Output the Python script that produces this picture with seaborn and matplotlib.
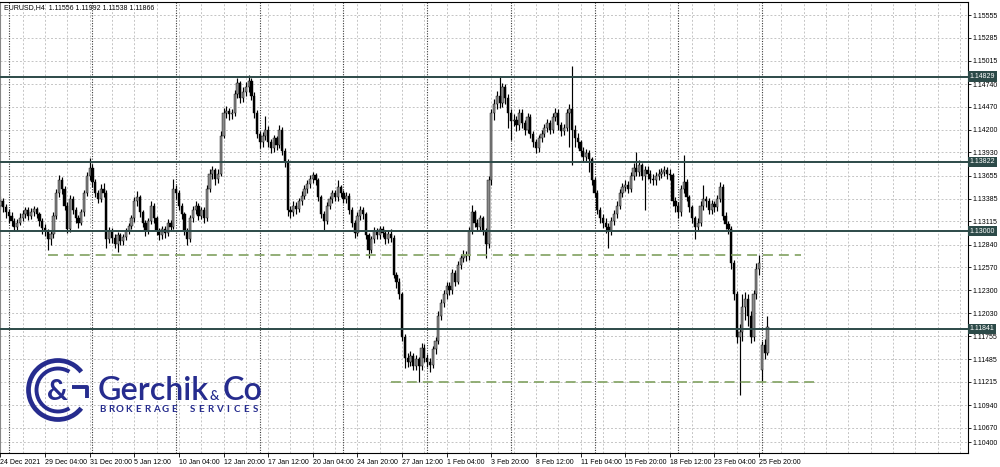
import numpy as np
import pandas as pd
import matplotlib
matplotlib.use("Agg")
import matplotlib.pyplot as plt
import matplotlib.transforms as mtransforms
from matplotlib import font_manager
from matplotlib.patches import Arc
import seaborn as sns

sns.set_theme(style="white")
plt.rcParams["font.family"] = ["Liberation Sans", "DejaVu Sans"]

# ---------------------------------------------------------------
# EURUSD H4 bars (24 Dec 2021 .. 28 Feb 2022)
# ---------------------------------------------------------------
opens = [
    1.1330, 1.1335, 1.1328, 1.1322, 1.1318, 1.1312, 1.1305, 1.1310, 1.1316, 1.1320,
    1.1325, 1.1318, 1.1322, 1.1326, 1.1320, 1.1312, 1.1304, 1.1300, 1.1290, 1.1296,
    1.1318, 1.1345, 1.1360, 1.1350, 1.1330, 1.1302, 1.1338, 1.1325, 1.1315, 1.1310,
    1.1322, 1.1345, 1.1365, 1.1375, 1.1358, 1.1345, 1.1338, 1.1350, 1.1345, 1.1290,
    1.1300, 1.1292, 1.1285, 1.1295, 1.1288, 1.1293, 1.1300, 1.1306, 1.1315, 1.1335,
    1.1340, 1.1322, 1.1310, 1.1300, 1.1312, 1.1330, 1.1315, 1.1300, 1.1295, 1.1302,
    1.1298, 1.1310, 1.1305, 1.1350, 1.1345, 1.1330, 1.1320, 1.1300, 1.1290, 1.1315,
    1.1325, 1.1330, 1.1318, 1.1325, 1.1315, 1.1350, 1.1368, 1.1372, 1.1362, 1.1368,
    1.1413, 1.1440, 1.1442, 1.1438, 1.1440, 1.1462, 1.1475, 1.1458, 1.1465, 1.1470,
    1.1478, 1.1460, 1.1440, 1.1415, 1.1405, 1.1412, 1.1420, 1.1405, 1.1398, 1.1410,
    1.1402, 1.1420, 1.1395, 1.1382, 1.1325, 1.1322, 1.1330, 1.1326, 1.1335, 1.1342,
    1.1350, 1.1356, 1.1362, 1.1366, 1.1360, 1.1340, 1.1320, 1.1312, 1.1330, 1.1338,
    1.1345, 1.1340, 1.1352, 1.1345, 1.1338, 1.1342, 1.1325, 1.1310, 1.1298, 1.1318,
    1.1325, 1.1320, 1.1295, 1.1278, 1.1290, 1.1300, 1.1295, 1.1302, 1.1298, 1.1290,
    1.1296, 1.1292, 1.1248, 1.1240, 1.1225, 1.1175, 1.1150, 1.1145, 1.1152, 1.1140,
    1.1148, 1.1140, 1.1162, 1.1150, 1.1145, 1.1142, 1.1160, 1.1170, 1.1200, 1.1215,
    1.1225, 1.1235, 1.1230, 1.1250, 1.1240, 1.1260, 1.1268, 1.1272, 1.1270, 1.1300,
    1.1322, 1.1310, 1.1305, 1.1315, 1.1300, 1.1285, 1.1360, 1.1440, 1.1450, 1.1460,
    1.1452, 1.1470, 1.1458, 1.1440, 1.1430, 1.1432, 1.1425, 1.1440, 1.1428, 1.1420,
    1.1435, 1.1415, 1.1405, 1.1398, 1.1410, 1.1415, 1.1422, 1.1428, 1.1420, 1.1435,
    1.1440, 1.1425, 1.1418, 1.1422, 1.1440, 1.1445, 1.1420, 1.1410, 1.1405, 1.1395,
    1.1388, 1.1392, 1.1385, 1.1360, 1.1345, 1.1325, 1.1315, 1.1310, 1.1305, 1.1300,
    1.1312, 1.1320, 1.1330, 1.1345, 1.1352, 1.1355, 1.1350, 1.1365, 1.1375, 1.1370,
    1.1378, 1.1365, 1.1372, 1.1368, 1.1362, 1.1360, 1.1365, 1.1368, 1.1370, 1.1372,
    1.1368, 1.1366, 1.1335, 1.1330, 1.1322, 1.1350, 1.1358, 1.1340, 1.1328, 1.1315,
    1.1305, 1.1310, 1.1330, 1.1338, 1.1335, 1.1325, 1.1332, 1.1328, 1.1338, 1.1352,
    1.1318, 1.1308, 1.1302, 1.1262, 1.1225, 1.1175, 1.1180, 1.1210, 1.1220, 1.1200,
    1.1175, 1.1225, 1.1255, 1.1135, 1.1165, 1.11556,
]
highs = [
    1.1341, 1.1339, 1.1332, 1.1326, 1.1322, 1.1316, 1.1314, 1.1321, 1.1325, 1.1329,
    1.1328, 1.1327, 1.1330, 1.1329, 1.1323, 1.1315, 1.1308, 1.1303, 1.1301, 1.1322,
    1.1350, 1.1366, 1.1364, 1.1353, 1.1334, 1.1343, 1.1341, 1.1328, 1.1319, 1.1326,
    1.1349, 1.1370, 1.1386, 1.1379, 1.1362, 1.1349, 1.1356, 1.1357, 1.1348, 1.1305,
    1.1304, 1.1296, 1.1299, 1.1298, 1.1297, 1.1304, 1.1310, 1.1319, 1.1340, 1.1347,
    1.1343, 1.1325, 1.1313, 1.1316, 1.1336, 1.1333, 1.1318, 1.1304, 1.1306, 1.1306,
    1.1314, 1.1313, 1.1362, 1.1355, 1.1348, 1.1333, 1.1323, 1.1304, 1.1319, 1.1330,
    1.1336, 1.1333, 1.1329, 1.1328, 1.1354, 1.1373, 1.1377, 1.1375, 1.1373, 1.1418,
    1.1446, 1.1448, 1.1446, 1.1445, 1.1467, 1.1481, 1.1478, 1.1470, 1.1476, 1.1485,
    1.1481, 1.1464, 1.1443, 1.1419, 1.1417, 1.1436, 1.1424, 1.1409, 1.1414, 1.1413,
    1.1425, 1.1423, 1.1398, 1.1385, 1.1330, 1.1335, 1.1334, 1.1339, 1.1347, 1.1354,
    1.1360, 1.1366, 1.1370, 1.1369, 1.1363, 1.1343, 1.1324, 1.1334, 1.1342, 1.1349,
    1.1349, 1.1360, 1.1355, 1.1348, 1.1346, 1.1345, 1.1328, 1.1313, 1.1322, 1.1330,
    1.1328, 1.1323, 1.1298, 1.1294, 1.1305, 1.1304, 1.1306, 1.1306, 1.1301, 1.1300,
    1.1303, 1.1295, 1.1252, 1.1244, 1.1228, 1.1178, 1.1156, 1.1158, 1.1156, 1.1153,
    1.1151, 1.1168, 1.1166, 1.1154, 1.1150, 1.1164, 1.1175, 1.1205, 1.1220, 1.1230,
    1.1240, 1.1240, 1.1255, 1.1254, 1.1265, 1.1273, 1.1277, 1.1276, 1.1305, 1.1331,
    1.1325, 1.1314, 1.1319, 1.1318, 1.1304, 1.1365, 1.1445, 1.1456, 1.1466, 1.1483,
    1.1475, 1.1474, 1.1462, 1.1444, 1.1438, 1.1436, 1.1445, 1.1444, 1.1432, 1.1440,
    1.1439, 1.1419, 1.1409, 1.1414, 1.1420, 1.1427, 1.1433, 1.1432, 1.1440, 1.1446,
    1.1444, 1.1429, 1.1427, 1.1445, 1.1450, 1.1495, 1.1425, 1.1416, 1.1408, 1.1399,
    1.1397, 1.1396, 1.1388, 1.1364, 1.1348, 1.1328, 1.1320, 1.1315, 1.1309, 1.1317,
    1.1325, 1.1335, 1.1350, 1.1357, 1.1360, 1.1359, 1.1370, 1.1380, 1.1393, 1.1384,
    1.1381, 1.1377, 1.1377, 1.1372, 1.1367, 1.1370, 1.1373, 1.1375, 1.1377, 1.1376,
    1.1373, 1.1369, 1.1340, 1.1334, 1.1355, 1.1390, 1.1362, 1.1343, 1.1331, 1.1318,
    1.1315, 1.1335, 1.1355, 1.1342, 1.1339, 1.1337, 1.1336, 1.1343, 1.1358, 1.1356,
    1.1322, 1.1312, 1.1306, 1.1266, 1.1229, 1.1190, 1.1225, 1.1228, 1.1226, 1.1205,
    1.1230, 1.1262, 1.1272, 1.1170, 1.1172, 1.11992,
]
lows = [
    1.1326, 1.1322, 1.1316, 1.1310, 1.1306, 1.1300, 1.1301, 1.1307, 1.1312, 1.1316,
    1.1313, 1.1314, 1.1318, 1.1315, 1.1306, 1.1297, 1.1294, 1.1277, 1.1284, 1.1292,
    1.1314, 1.1340, 1.1344, 1.1325, 1.1298, 1.1299, 1.1320, 1.1310, 1.1304, 1.1307,
    1.1318, 1.1341, 1.1360, 1.1352, 1.1340, 1.1333, 1.1334, 1.1340, 1.1280, 1.1286,
    1.1286, 1.1280, 1.1275, 1.1283, 1.1284, 1.1289, 1.1296, 1.1302, 1.1311, 1.1330,
    1.1317, 1.1305, 1.1294, 1.1296, 1.1308, 1.1310, 1.1295, 1.1289, 1.1290, 1.1292,
    1.1294, 1.1300, 1.1302, 1.1338, 1.1325, 1.1314, 1.1295, 1.1284, 1.1287, 1.1311,
    1.1320, 1.1313, 1.1314, 1.1310, 1.1312, 1.1346, 1.1362, 1.1355, 1.1357, 1.1365,
    1.1410, 1.1434, 1.1432, 1.1433, 1.1436, 1.1458, 1.1452, 1.1453, 1.1460, 1.1465,
    1.1455, 1.1434, 1.1410, 1.1398, 1.1400, 1.1408, 1.1400, 1.1392, 1.1394, 1.1396,
    1.1398, 1.1390, 1.1376, 1.1318, 1.1315, 1.1318, 1.1320, 1.1322, 1.1331, 1.1338,
    1.1345, 1.1351, 1.1357, 1.1354, 1.1335, 1.1315, 1.1301, 1.1308, 1.1326, 1.1333,
    1.1335, 1.1336, 1.1340, 1.1333, 1.1333, 1.1320, 1.1305, 1.1292, 1.1294, 1.1313,
    1.1314, 1.1290, 1.1268, 1.1274, 1.1286, 1.1290, 1.1291, 1.1293, 1.1285, 1.1286,
    1.1287, 1.1244, 1.1233, 1.1219, 1.1170, 1.1138, 1.1139, 1.1140, 1.1135, 1.1136,
    1.1121, 1.1136, 1.1145, 1.1139, 1.1133, 1.1138, 1.1155, 1.1166, 1.1195, 1.1210,
    1.1220, 1.1224, 1.1226, 1.1235, 1.1237, 1.1255, 1.1263, 1.1265, 1.1266, 1.1296,
    1.1305, 1.1300, 1.1300, 1.1295, 1.1268, 1.1280, 1.1355, 1.1432, 1.1444, 1.1446,
    1.1447, 1.1450, 1.1422, 1.1408, 1.1424, 1.1419, 1.1420, 1.1422, 1.1414, 1.1416,
    1.1410, 1.1399, 1.1392, 1.1394, 1.1405, 1.1411, 1.1417, 1.1415, 1.1416, 1.1430,
    1.1420, 1.1413, 1.1414, 1.1418, 1.1400, 1.1378, 1.1400, 1.1398, 1.1389, 1.1382,
    1.1383, 1.1370, 1.1355, 1.1340, 1.1320, 1.1310, 1.1304, 1.1298, 1.1280, 1.1295,
    1.1307, 1.1316, 1.1326, 1.1340, 1.1347, 1.1345, 1.1346, 1.1360, 1.1365, 1.1365,
    1.1360, 1.1325, 1.1362, 1.1357, 1.1355, 1.1355, 1.1360, 1.1363, 1.1365, 1.1362,
    1.1360, 1.1330, 1.1322, 1.1316, 1.1318, 1.1345, 1.1335, 1.1322, 1.1309, 1.1290,
    1.1300, 1.1306, 1.1325, 1.1329, 1.1320, 1.1320, 1.1322, 1.1324, 1.1334, 1.1313,
    1.1302, 1.1296, 1.1255, 1.1218, 1.1168, 1.1106, 1.1170, 1.1195, 1.1188, 1.1168,
    1.1170, 1.1220, 1.1248, 1.1121, 1.1148, 1.11538,
]
closes = [
    1.1335, 1.1328, 1.1322, 1.1318, 1.1312, 1.1305, 1.1310, 1.1316, 1.1320, 1.1325,
    1.1318, 1.1322, 1.1326, 1.1320, 1.1312, 1.1304, 1.1300, 1.1290, 1.1296, 1.1318,
    1.1345, 1.1360, 1.1350, 1.1330, 1.1302, 1.1338, 1.1325, 1.1315, 1.1310, 1.1322,
    1.1345, 1.1365, 1.1375, 1.1358, 1.1345, 1.1338, 1.1350, 1.1345, 1.1290, 1.1300,
    1.1292, 1.1285, 1.1295, 1.1288, 1.1293, 1.1300, 1.1306, 1.1315, 1.1335, 1.1340,
    1.1322, 1.1310, 1.1300, 1.1312, 1.1330, 1.1315, 1.1300, 1.1295, 1.1302, 1.1298,
    1.1310, 1.1305, 1.1350, 1.1345, 1.1330, 1.1320, 1.1300, 1.1290, 1.1315, 1.1325,
    1.1330, 1.1318, 1.1325, 1.1315, 1.1350, 1.1368, 1.1372, 1.1362, 1.1368, 1.1413,
    1.1440, 1.1442, 1.1438, 1.1440, 1.1462, 1.1475, 1.1458, 1.1465, 1.1470, 1.1478,
    1.1460, 1.1440, 1.1415, 1.1405, 1.1412, 1.1420, 1.1405, 1.1398, 1.1410, 1.1402,
    1.1420, 1.1395, 1.1382, 1.1325, 1.1322, 1.1330, 1.1326, 1.1335, 1.1342, 1.1350,
    1.1356, 1.1362, 1.1366, 1.1360, 1.1340, 1.1320, 1.1312, 1.1330, 1.1338, 1.1345,
    1.1340, 1.1352, 1.1345, 1.1338, 1.1342, 1.1325, 1.1310, 1.1298, 1.1318, 1.1325,
    1.1320, 1.1295, 1.1278, 1.1290, 1.1300, 1.1295, 1.1302, 1.1298, 1.1290, 1.1296,
    1.1292, 1.1248, 1.1240, 1.1225, 1.1175, 1.1150, 1.1145, 1.1152, 1.1140, 1.1148,
    1.1140, 1.1162, 1.1150, 1.1145, 1.1142, 1.1160, 1.1170, 1.1200, 1.1215, 1.1225,
    1.1235, 1.1230, 1.1250, 1.1240, 1.1260, 1.1268, 1.1272, 1.1270, 1.1300, 1.1322,
    1.1310, 1.1305, 1.1315, 1.1300, 1.1285, 1.1360, 1.1440, 1.1450, 1.1460, 1.1452,
    1.1470, 1.1458, 1.1440, 1.1430, 1.1432, 1.1425, 1.1440, 1.1428, 1.1420, 1.1435,
    1.1415, 1.1405, 1.1398, 1.1410, 1.1415, 1.1422, 1.1428, 1.1420, 1.1435, 1.1440,
    1.1425, 1.1418, 1.1422, 1.1440, 1.1445, 1.1420, 1.1410, 1.1405, 1.1395, 1.1388,
    1.1392, 1.1385, 1.1360, 1.1345, 1.1325, 1.1315, 1.1310, 1.1305, 1.1300, 1.1312,
    1.1320, 1.1330, 1.1345, 1.1352, 1.1355, 1.1350, 1.1365, 1.1375, 1.1370, 1.1378,
    1.1365, 1.1372, 1.1368, 1.1362, 1.1360, 1.1365, 1.1368, 1.1370, 1.1372, 1.1368,
    1.1366, 1.1335, 1.1330, 1.1322, 1.1350, 1.1358, 1.1340, 1.1328, 1.1315, 1.1305,
    1.1310, 1.1330, 1.1338, 1.1335, 1.1325, 1.1332, 1.1328, 1.1338, 1.1352, 1.1318,
    1.1308, 1.1302, 1.1262, 1.1225, 1.1175, 1.1180, 1.1210, 1.1220, 1.1200, 1.1175,
    1.1225, 1.1255, 1.1262, 1.1165, 1.1156, 1.11866,
]

# price scale labels on the right (MT4 puts the bottom label a bit higher)
price_ticks = [1.15555, 1.15285, 1.15015, 1.14740, 1.14470, 1.14200, 1.13930,
               1.13655, 1.13385, 1.13115, 1.12840, 1.12570, 1.12300, 1.12030,
               1.11755, 1.11485, 1.11215, 1.10940, 1.10670, 1.10503]
price_labels = ["1.15555", "1.15285", "1.15015", "1.14740", "1.14470", "1.14200",
                "1.13930", "1.13655", "1.13385", "1.13115", "1.12840", "1.12570",
                "1.12300", "1.12030", "1.11755", "1.11485", "1.11215", "1.10940",
                "1.10670", "1.10400"]

time_labels = ["24 Dec 2021", "29 Dec 04:00", "31 Dec 20:00", "5 Jan 12:00",
               "10 Jan 04:00", "12 Jan 20:00", "17 Jan 12:00", "20 Jan 04:00",
               "24 Jan 20:00", "27 Jan 12:00", "1 Feb 04:00", "3 Feb 20:00",
               "8 Feb 12:00", "11 Feb 04:00", "15 Feb 20:00", "18 Feb 12:00",
               "23 Feb 04:00", "25 Feb 20:00"]
bars_per_label = 16
week_start_bars = [3, 33, 63, 93, 123, 153, 183, 213, 243, 273]

# horizontal levels
levels = [1.14829, 1.13822, 1.13000, 1.11841]
level_labels = ["1.14829", "1.13822", "1.13000", "1.11841"]
dashed_levels = [1.12717, 1.11213]
dashed_from = [17, 140]
dashed_to = [287, 292]

header = "EURUSD,H4  1.11556 1.11992 1.11538 1.11866"
tagline = "BROKERAGE SERVICES"

# ---------------------------------------------------------------
df = pd.DataFrame({"open": opens, "high": highs, "low": lows, "close": closes})
df["bar"] = np.arange(len(df))
df["up"] = df["close"] >= df["open"]
df["body_lo"] = df[["open", "close"]].min(axis=1)
df["body_h"] = (df["close"] - df["open"]).abs().clip(lower=0.00006)

installed = {f.name for f in font_manager.fontManager.ttflist}
if "Liberation Sans Narrow" in installed:
    AX_FONT, TXT = "Liberation Sans Narrow", 6.0
else:
    AX_FONT, TXT = "Liberation Sans", 5.0

LEVEL_C = "#2c4a48"
DASH_C = "#8aa86c"
BULL_C = "#8a8a8a"

fig = plt.figure(figsize=(10, 4.67), dpi=100)
ax = fig.add_axes([0.0, 1 - 453 / 467, 0.968, 451 / 467])

# grid
for i in range(0, 350, 8):
    ax.axvline(i, color="#c4c4c4", lw=0.7, ls=(0, (2, 2)), zorder=0)
for p in price_ticks:
    ax.axhline(p, color="#c4c4c4", lw=0.7, ls=(0, (2, 2)), zorder=0)
for w in week_start_bars:
    ax.axvline(w, color="#3a3a3a", lw=0.8, ls=(0, (1, 1.3)), zorder=0.5)

# candles
ax.vlines(df["bar"], df["low"], df["high"], color="black", lw=0.85, zorder=2)
up = df[df["up"]]
dn = df[~df["up"]]
ax.bar(up["bar"], up["body_h"], bottom=up["body_lo"], width=0.8,
       color=BULL_C, edgecolor="black", linewidth=0.3, zorder=3)
ax.bar(dn["bar"], dn["body_h"], bottom=dn["body_lo"], width=0.8,
       color="black", edgecolor="black", linewidth=0.3, zorder=3)

# levels
trans = mtransforms.blended_transform_factory(ax.transAxes, ax.transData)
for lv, lab in zip(levels, level_labels):
    ax.axhline(lv, color=LEVEL_C, lw=1.4, zorder=4)
    ax.text(1.002, lv, lab, transform=trans, ha="left", va="center",
            fontsize=TXT, color="white", zorder=10, clip_on=False,
            family=[AX_FONT, "DejaVu Sans"],
            bbox=dict(boxstyle="square,pad=0.22", fc=LEVEL_C, ec="none"))
for lv, a, b in zip(dashed_levels, dashed_from, dashed_to):
    ax.hlines(lv, a, b, color=DASH_C, lw=1.3, ls=(0, (5.5, 3.3)), zorder=4)

ax.set_xlim(-0.14, 346.9)
ax.set_ylim(1.10373, 1.15711)

ax.yaxis.tick_right()
ax.set_yticks(price_ticks)
ax.set_yticklabels(price_labels, family=[AX_FONT, "DejaVu Sans"])
ax.tick_params(axis="y", which="both", right=True, length=2, width=0.6,
               pad=1, labelsize=TXT, colors="black")
ax.set_xticks([i * bars_per_label for i in range(len(time_labels))])
ax.set_xticklabels(time_labels, ha="left", family=[AX_FONT, "DejaVu Sans"])
ax.tick_params(axis="x", which="both", bottom=True, length=3, width=0.6,
               pad=1, labelsize=TXT, colors="black")
for s in ax.spines.values():
    s.set_color("black")
    s.set_linewidth(0.8)
ax.spines["left"].set_color("#888888")

fig.text(0.004, 1 - 8 / 467, header, fontsize=TXT, ha="left", va="center",
         color="black", family=[AX_FONT, "DejaVu Sans"])

# logo overlay in pixel coordinates
lg = fig.add_axes([0, 0, 1, 1])
lg.set_xlim(0, 1000)
lg.set_ylim(467, 0)
lg.axis("off")
lg.patch.set_alpha(0)
NAVY = "#262c8e"
LOGO_FONT = ["Lato", "DejaVu Sans"]
lg.add_patch(Arc((58, 390), 59, 59, theta1=38, theta2=322, color=NAVY, lw=3.4))
lg.add_patch(Arc((58, 390), 43, 43, theta1=58, theta2=302, color=NAVY, lw=2.8))
lg.plot([72, 87, 87], [387, 387, 398], color=NAVY, lw=2.8, solid_capstyle="butt")
lg.text(57, 392, "&", fontsize=21, fontweight="bold", color=NAVY,
        ha="center", va="center", family=LOGO_FONT)
lg.text(98, 400, "Gerchik", fontsize=23.2, fontweight="semibold", color=NAVY,
        ha="left", va="baseline", family=LOGO_FONT)
lg.text(210, 400, "&", fontsize=9.5, fontweight="semibold", color=NAVY,
        ha="left", va="baseline", family=LOGO_FONT)
lg.text(223, 400, "Co", fontsize=23.2, fontweight="semibold", color=NAVY,
        ha="left", va="baseline", family=LOGO_FONT)
# tagline set letter by letter to reproduce the wide tracking
step = 164 / (len(tagline) + 0.2)
for k, ch in enumerate(tagline):
    lg.text(102 + k * step, 409, ch, fontsize=7, fontweight="bold", color=NAVY,
            ha="center", va="center", family=LOGO_FONT)

fig.savefig("out.png", dpi=100)
